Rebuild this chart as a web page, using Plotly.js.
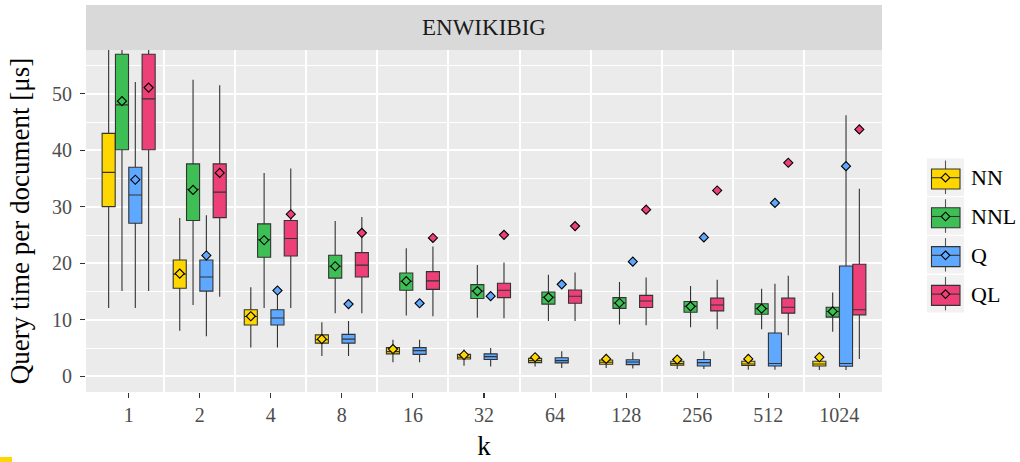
<!DOCTYPE html>
<html>
<head>
<meta charset="utf-8">
<script src="https://cdn.plot.ly/plotly-3.0.1.min.js"></script>
<style>html,body{margin:0;padding:0;background:#fff;}#chart{width:1020px;height:462px;}</style>
</head>
<body>
<div id="chart"></div>
<script>
// ---- data ----
const kLabels = ['1','2','4','8','16','32','64','128','256','512','1024'];
const seriesNames = ['NN','NNL','Q','QL'];
const seriesColors = ['#FFD700','#3EBF55','#5FA8FF','#EE4078'];

const nnQ1   = [30.05, 15.6, 9.1, 5.9, 4.0, 3.1, 2.45, 2.15, 2.0, 1.95, 1.85];
const nnMed  = [36.1, 18.1, 10.6, 6.5, 4.4, 3.4, 2.8, 2.5, 2.3, 2.2, 2.2];
const nnQ3   = [43.0, 20.6, 11.8, 7.35, 5.1, 3.9, 3.2, 2.9, 2.7, 2.7, 2.7];
const nnLo   = [12.1, 8.1, 5.1, 3.6, 2.5, 1.9, 1.75, 1.5, 1.3, 1.2, 1.15];
const nnHi   = [70, 28.05, 15.8, 9.6, 6.5, 4.75, 4.1, 3.7, 3.6, 3.7, 3.3];
const nnMean = [null, 18.2, 10.65, 6.6, 4.85, 3.8, 3.4, 3.1, 3.0, 3.1, 3.4];

const nnlQ1   = [40.1, 27.6, 21.1, 17.4, 15.25, 13.8, 12.8, 12.05, 11.35, 11.0, 10.5];
const nnlMed  = [48.05, 33.1, 24.2, 19.5, 16.85, 15.1, 14.0, 13.0, 12.4, 12.0, 11.5];
const nnlQ3   = [57.0, 37.6, 27.0, 21.45, 18.3, 16.25, 14.95, 13.95, 13.25, 12.85, 12.25];
const nnlLo   = [15.1, 12.65, 12.1, 11.2, 10.8, 10.4, 9.8, 9.2, 8.7, 8.35, 7.9];
const nnlHi   = [70, 52.5, 36.0, 27.5, 22.7, 19.7, 18.0, 16.7, 16.0, 15.5, 14.85];
const nnlMean = [48.7, 33.0, 24.1, 19.5, 16.85, 15.1, 14.0, 13.0, 12.4, 12.0, 11.5];

const qQ1   = [27.1, 15.1, 9.1, 5.9, 3.9, 3.0, 2.4, 2.1, 1.85, 1.85, 1.8];
const qMed  = [32.1, 17.6, 10.35, 6.6, 4.57, 3.5, 2.8, 2.55, 2.45, 2.3, 2.3];
const qQ3   = [37.0, 20.6, 11.8, 7.45, 5.1, 4.0, 3.3, 2.95, 3.0, 7.7, 19.55];
const qLo   = [12.1, 7.1, 5.1, 3.6, 2.5, 1.75, 1.5, 1.4, 1.3, 1.2, 1.15];
const qHi   = [52.1, 28.5, 14.5, 9.8, 6.5, 5.05, 4.45, 4.3, 4.45, 16.4, 46.2];
const qMean = [34.8, 21.4, 15.2, 12.8, 12.95, 14.2, 16.3, 20.3, 24.6, 30.7, 37.2];

const qlQ1   = [40.1, 28.1, 21.3, 17.6, 15.4, 13.95, 12.95, 12.2, 11.6, 11.2, 10.9];
const qlMed  = [49.1, 32.6, 24.4, 19.7, 16.9, 15.25, 14.2, 13.35, 12.65, 12.25, 11.8];
const qlQ3   = [57.0, 37.6, 27.6, 21.9, 18.55, 16.5, 15.3, 14.35, 13.85, 13.85, 19.85];
const qlLo   = [15.1, 14.1, 12.1, 11.2, 10.65, 10.3, 9.8, 9.05, 8.35, 7.3, 3.1];
const qlHi   = [70, 51.5, 36.8, 28.2, 23.0, 20.15, 18.4, 17.5, 17.1, 17.8, 33.2];
const qlMean = [51.1, 36.0, 28.7, 25.4, 24.5, 25.05, 26.6, 29.5, 32.9, 37.8, 43.7];

const yTicks = [0, 10, 20, 30, 40, 50];
const yMinor = [5, 15, 25, 35, 45, 55];

// ---- build ----
const stats = [
  [nnQ1, nnMed, nnQ3, nnLo, nnHi, nnMean],
  [nnlQ1, nnlMed, nnlQ3, nnlLo, nnlHi, nnlMean],
  [qQ1, qMed, qQ3, qLo, qHi, qMean],
  [qlQ1, qlMed, qlQ3, qlLo, qlHi, qlMean]
];
const FONT = 'Liberation Serif, DejaVu Serif, serif';
const dodge = 0.75 / seriesNames.length;
const idx = kLabels.map((_, i) => i);
const traces = [];
seriesNames.forEach((name, s) => {
  const off = (s - (seriesNames.length - 1) / 2) * dodge;
  const xs = idx.map(i => i + off);
  const st = stats[s];
  traces.push({
    type: 'box', name: name, x: xs,
    q1: st[0], median: st[1], q3: st[2], lowerfence: st[3], upperfence: st[4],
    width: dodge * 0.98, whiskerwidth: 0, boxpoints: false,
    fillcolor: seriesColors[s], line: {color: '#333333', width: 1.1},
    showlegend: false, hoverinfo: 'skip'
  });
});
seriesNames.forEach((name, s) => {
  const off = (s - (seriesNames.length - 1) / 2) * dodge;
  traces.push({
    type: 'scatter', mode: 'markers', name: name + ' mean',
    x: idx.map(i => i + off), y: stats[s][5],
    marker: {symbol: 'diamond', size: 7, color: seriesColors[s], line: {color: '#000', width: 1.1}},
    showlegend: false, hoverinfo: 'skip', cliponaxis: true
  });
});

// plot area in pixels
const L = 86, R = 882, T = 50, B = 392, W = 1020, H = 462;
const px = X => (X - L) / (R - L);
const py = Y => (B - Y) / (B - T);

const shapes = [
  {type: 'rect', xref: 'paper', yref: 'paper', x0: 0, x1: 1, y0: 1, y1: py(5), fillcolor: '#D9D9D9', line: {width: 0}, layer: 'below'},
  {type: 'rect', xref: 'paper', yref: 'paper', x0: px(0), x1: px(12), y0: py(457), y1: py(462), fillcolor: '#FFD700', line: {width: 0}}
];
const annotations = [
  {xref: 'paper', yref: 'paper', x: 0.5, y: py(28), text: 'ENWIKIBIG', showarrow: false,
   xanchor: 'center', yanchor: 'middle', font: {family: FONT, size: 23, color: '#1A1A1A'}}
];
// custom legend (ggplot style)
seriesNames.forEach((name, s) => {
  const top = 158.5 + s * 38.8;
  const cx = 945.5, cy = top + 19.2;
  shapes.push({type: 'rect', xref: 'paper', yref: 'paper', x0: px(927), x1: px(964), y0: py(top), y1: py(top + 37.5), fillcolor: '#F2F2F2', line: {width: 0}});
  shapes.push({type: 'line', xref: 'paper', yref: 'paper', x0: px(cx), x1: px(cx), y0: py(top + 2), y1: py(top + 35.5), line: {color: '#555', width: 1.1}});
  shapes.push({type: 'rect', xref: 'paper', yref: 'paper', x0: px(931.5), x1: px(960), y0: py(top + 10.5), y1: py(top + 30.5), fillcolor: seriesColors[s], line: {color: '#333', width: 1.1}});
  shapes.push({type: 'line', xref: 'paper', yref: 'paper', x0: px(931.5), x1: px(960), y0: py(cy), y1: py(cy), line: {color: '#333', width: 1.1}});
  const d = 4.3;
  shapes.push({type: 'path', xref: 'paper', yref: 'paper',
    path: `M ${px(cx)},${py(cy - d)} L ${px(cx + d)},${py(cy)} L ${px(cx)},${py(cy + d)} L ${px(cx - d)},${py(cy)} Z`,
    fillcolor: seriesColors[s], line: {color: '#000', width: 1.1}});
  annotations.push({xref: 'paper', yref: 'paper', x: px(969), y: py(cy), text: name, showarrow: false,
    xanchor: 'left', yanchor: 'middle', font: {family: FONT, size: 22, color: '#000'}});
});

const layout = {
  width: W, height: H,
  margin: {l: L, r: W - R, t: T, b: H - B, pad: 0},
  paper_bgcolor: '#FFFFFF', plot_bgcolor: '#EBEBEB',
  boxmode: 'overlay', showlegend: false, hovermode: false,
  font: {family: FONT, color: '#000'},
  xaxis: {
    range: [-0.6, 10.6], tickmode: 'array', tickvals: idx, ticktext: kLabels,
    ticks: 'outside', ticklen: 5, tickwidth: 1.1, tickcolor: '#333', showgrid: false, zeroline: false,
    showline: false, fixedrange: true,
    minor: {tickmode: 'array', tickvals: idx.slice(0, -1).map(i => i + 0.5), showgrid: true, gridcolor: '#FFFFFF', gridwidth: 2, ticks: ''},
    tickfont: {family: FONT, size: 20, color: '#4D4D4D'},
    title: {text: 'k', font: {family: FONT, size: 27, color: '#000'}, standoff: 11}
  },
  yaxis: {
    range: [-2.75, 57.75], tickmode: 'array', tickvals: yTicks,
    ticks: 'outside', ticklen: 5, tickwidth: 1.1, tickcolor: '#333', showgrid: true, gridcolor: '#FFFFFF', gridwidth: 2,
    zeroline: false, showline: false, fixedrange: true, ticklabelstandoff: 4,
    minor: {tickmode: 'array', tickvals: yMinor, showgrid: true, gridcolor: '#FFFFFF', gridwidth: 1, ticks: ''},
    tickfont: {family: FONT, size: 20, color: '#4D4D4D'},
    title: {text: 'Query time per document [μs]', font: {family: FONT, size: 27, color: '#000'}, standoff: 14}
  },
  shapes: shapes, annotations: annotations
};
Plotly.newPlot('chart', traces, layout, {staticPlot: true, displayModeBar: false});
</script>
</body>
</html>
